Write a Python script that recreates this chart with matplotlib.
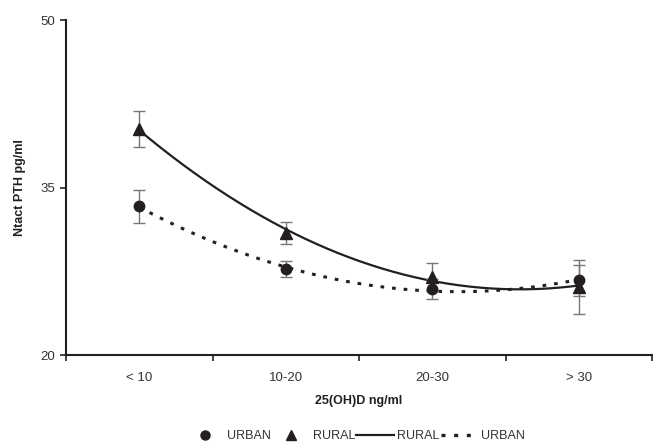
import numpy as np
import matplotlib
matplotlib.use("Agg")
import matplotlib.pyplot as plt
from matplotlib.lines import Line2D

plt.rcParams['font.family'] = ['Liberation Sans', 'DejaVu Sans']

categories = ["< 10", "10-20", "20-30", "> 30"]
urban = [33.3, 27.7, 25.9, 26.7]
urban_err = [1.5, 0.75, 0.9, 1.4]
rural = [40.25, 30.9, 27.0, 26.1]
rural_err = [1.6, 1.0, 1.2, 2.4]

C = "#231f20"
x = np.arange(1, len(categories) + 1)

fig = plt.figure(figsize=(6.55, 4.44), dpi=100)
ax = fig.add_axes([66/655, 89/444, 586/655, 335/444])

# polynomial (order 2) trendlines, as in the original spreadsheet chart
xs = np.linspace(1, 4, 200)
pr = np.polyfit(x, rural, 2)
pu = np.polyfit(x, urban, 2)
ax.plot(xs, np.polyval(pr, xs), color=C, lw=1.6, zorder=2)
ax.plot(xs, np.polyval(pu, xs), color=C, lw=2.2, ls=(0, (1.2, 2.6)), zorder=2)

ax.errorbar(x, urban, yerr=urban_err, fmt='o', color=C, ms=7.5,
            ecolor="#777777", elinewidth=1.0, capsize=4, capthick=1.0, zorder=3)
ax.errorbar(x, rural, yerr=rural_err, fmt='^', color=C, ms=8,
            ecolor="#777777", elinewidth=1.0, capsize=4, capthick=1.0, zorder=3)

ax.set_xlim(0.5, 4.5)
ax.set_ylim(20, 50)
ax.set_yticks([20, 35, 50])
ax.set_xticks([0.5, 1.5, 2.5, 3.5, 4.5])
ax.set_xticklabels([])
ax.set_xticks(x, minor=True)
ax.set_xticklabels(categories, minor=True)
ax.tick_params(axis='x', which='minor', length=0, pad=12, labelsize=9.5, colors="#333333")
ax.tick_params(axis='x', which='major', length=4, width=1.2, color=C)
ax.tick_params(axis='y', length=4, width=1.2, color=C, labelsize=9.5, labelcolor="#333333", pad=4)

for s in ['top', 'right']:
    ax.spines[s].set_visible(False)
for s in ['left', 'bottom']:
    ax.spines[s].set_linewidth(1.5)
    ax.spines[s].set_color(C)

ax.set_xlabel("25(OH)D ng/ml", fontsize=9, fontweight='bold', labelpad=8, color=C)
ax.set_ylabel("Ntact PTH pg/ml", fontsize=9, fontweight='bold', labelpad=10, color=C)

handles = [
    Line2D([], [], marker='o', color=C, ls='none', ms=6.5),
    Line2D([], [], marker='^', color=C, ls='none', ms=6.5),
    Line2D([], [], color=C, lw=1.6),
    Line2D([], [], color=C, lw=2.4, ls=(0, (1.2, 2.6))),
]
labels = ["URBAN", "RURAL", "RURAL", "URBAN"]
fig.legend(handles, labels, loc='center', bbox_to_anchor=(0.543, 0.018), ncol=4,
           frameon=False, fontsize=9, handlelength=3.0, handletextpad=0.25,
           columnspacing=0.1, labelcolor="#333333", borderpad=0)

fig.savefig("out.png", dpi=100)
